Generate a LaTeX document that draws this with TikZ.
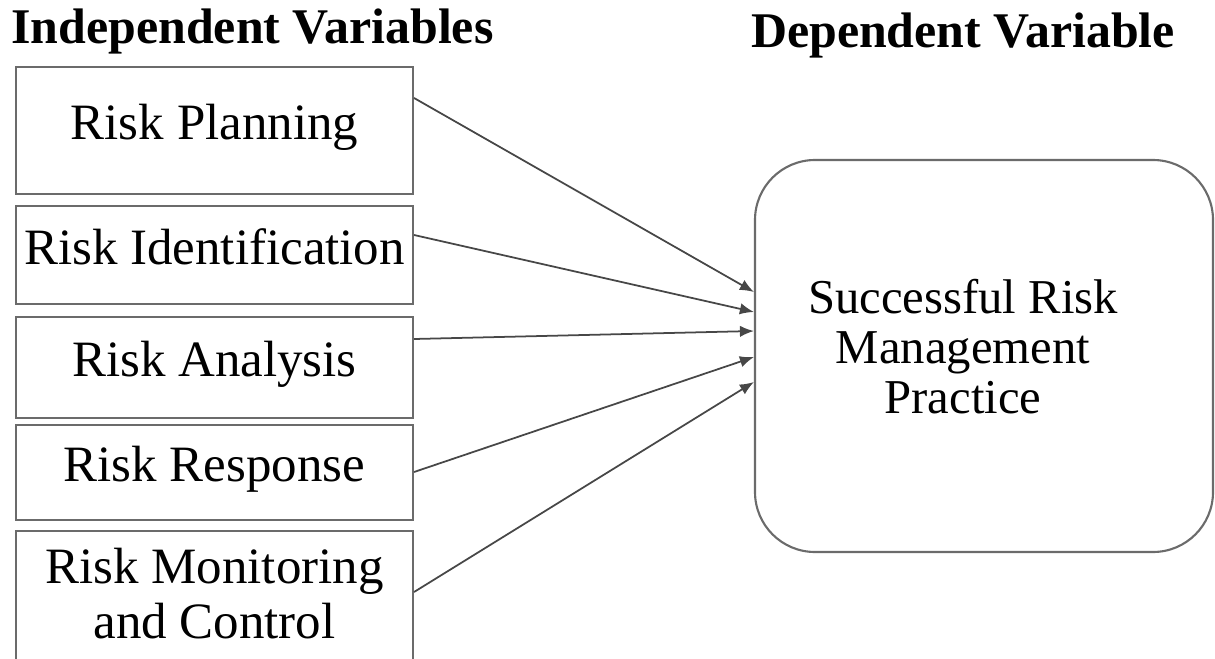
\documentclass[tikz,border=0pt]{standalone}
\usepackage{fontspec}
\setmainfont{Liberation Serif}
\usetikzlibrary{arrows.meta}

\begin{document}
\begin{tikzpicture}[line width = 1.2pt,
                    box/.style = {rectangle, draw = black!58, minimum width = 7.94cm, inner sep = 0pt,
                                  font = \fontsize{29}{31.3}\selectfont},
                    single/.style = {box, text height = 0.7cm, text depth = 0.34cm},
                    goal/.style = {rectangle, rounded corners = 1.2cm, draw = black!58,
                                   minimum width = 9.16cm, minimum height = 7.84cm},
                    head/.style = {font = \fontsize{28.4}{32}\selectfont\bfseries},
                    link/.style = {-{Latex[length = 8pt, width = 6.5pt]}, draw = black!72, line width = 1pt}]

\useasboundingbox (0,0) rectangle (24.3,-13.16);

% headings
\node [head] (IV) at (5.05,-0.62) {Independent Variables};
\node [head] (DV) at (19.26,-0.70) {Dependent Variable};

% independent variables
\node [single, minimum height = 2.54cm] (RP) at (4.29,-2.61) {Risk Planning};
\node [single, minimum height = 1.96cm] (RI) at (4.29,-5.10) {Risk Identification};
\node [single, minimum height = 2.02cm] (RA) at (4.29,-7.35) {Risk Analysis};
\node [single, minimum height = 1.90cm] (RR) at (4.29,-9.45) {Risk Response};
\node [box, minimum height = 2.80cm, align = center, text depth = 0.32cm] (MC) at (4.29,-12.02)
      {Risk Monitoring \\ and Control};

% dependent variable
\node [goal] (SRM) at (19.68,-7.12) {};
\node [align = center, font = \fontsize{27.7}{28.45}\selectfont] (SRMt) at (19.26,-6.93)
      {Successful Risk \\ Management \\ Practice};

\draw [link] ([yshift = 0.65cm]RP.east) -- ([yshift = 1.28cm]SRM.west);
\draw [link] ([yshift = 0.40cm]RI.east) -- ([yshift = 0.88cm]SRM.west);
\draw [link] ([yshift = 0.57cm]RA.east) -- ([yshift = 0.50cm]SRM.west);
\draw [link] ([yshift = 0.01cm]RR.east) -- ([yshift = -0.02cm]SRM.west);
\draw [link] ([yshift = 0.18cm]MC.east) -- ([yshift = -0.52cm]SRM.west);

\end{tikzpicture}
\end{document}
